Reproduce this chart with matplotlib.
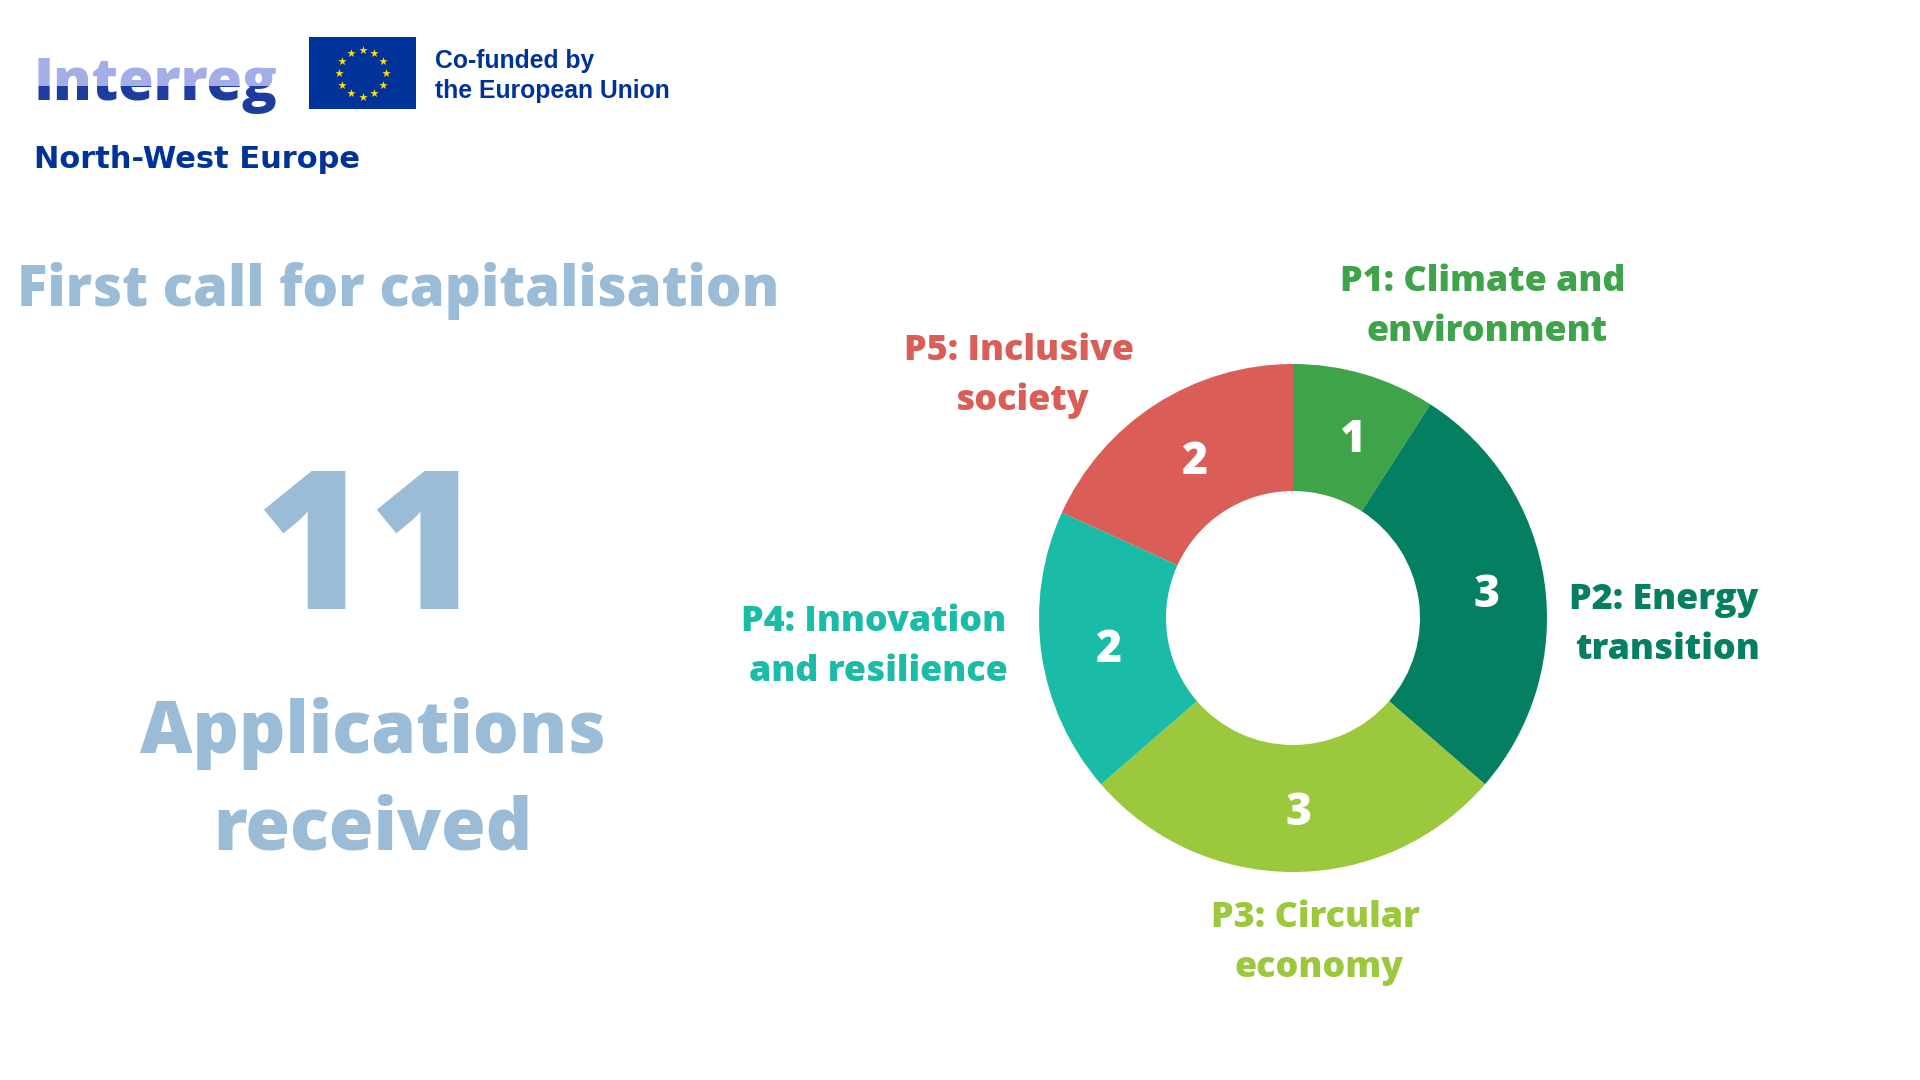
import numpy as np
import matplotlib
matplotlib.use("Agg")
import matplotlib.pyplot as plt
from matplotlib.patches import Rectangle
from matplotlib.transforms import Bbox, TransformedBbox

# ---------------- data ----------------
categories = ["P1: Climate and\nenvironment", "P2: Energy\ntransition",
              "P3: Circular\neconomy", "P4: Innovation\nand resilience",
              "P5: Inclusive\nsociety"]
values = [1, 3, 3, 2, 2]
total_applications = 11
colors = ["#3FA34A", "#047F62", "#9BC83C", "#1ABCA8", "#DA5D57"]

title_text = "First call for capitalisation"
total_caption = "Applications\nreceived"

W, H = 1920, 1080
fig = plt.figure(figsize=(19.2, 10.8), dpi=100)
fig.patch.set_facecolor("white")

def fx(x):
    return x / W

def fy(y):
    return 1 - y / H

FONT = "Open Sans"
LIGHT = "#9ABCD6"

# ---------------- logo ----------------
split_y = 86
for col, ext in [("#A3AEE6", (0, fy(split_y), 1, 1)), ("#1C3C9E", (0, 0, 1, fy(split_y)))]:
    t = fig.text(fx(33), fy(100), "Interreg", fontsize=41.5, fontweight="heavy",
                 family="Open Sans", color=col, ha="left", va="baseline")
    t.set_clip_box(TransformedBbox(Bbox.from_extents(*ext), fig.transFigure))
    t.set_clip_on(True)

# EU flag
fl, fr, ft, fb = 309, 416, 37, 109
flag_ax = fig.add_axes([fx(fl), fy(fb), (fr - fl) / W, (fb - ft) / H])
flag_ax.set_xlim(0, fr - fl)
flag_ax.set_ylim(fb - ft, 0)
flag_ax.axis("off")
flag_ax.add_patch(Rectangle((0, 0), fr - fl, fb - ft, facecolor="#003399",
                            edgecolor="none", zorder=0))
ang = np.deg2rad(np.arange(12) * 30)
ccx, ccy = (fr - fl) / 2, (fb - ft) / 2
flag_ax.scatter(ccx + 23.5 * np.sin(ang), ccy - 23.5 * np.cos(ang), marker="*",
                s=40, color="#FFDD00", linewidths=0, zorder=2)

fig.text(fx(435), fy(68), "Co-funded by", fontsize=17.8, fontweight="bold",
         family="Liberation Sans", color="#003399", ha="left", va="baseline")
fig.text(fx(435), fy(98), "the European Union", fontsize=17.8, fontweight="bold",
         family="Liberation Sans", color="#003399", ha="left", va="baseline")
fig.text(fx(34), fy(168), "North-West Europe", fontsize=22, fontweight="bold",
         family="DejaVu Sans", color="#003399", ha="left", va="baseline")

# ---------------- left texts ----------------
fig.text(fx(17), fy(306), title_text, fontsize=40.5, fontweight="heavy",
         family=FONT, color=LIGHT, ha="left", va="baseline")
fig.text(fx(369), fy(609), str(total_applications), fontsize=140, fontweight="heavy",
         family=FONT, color=LIGHT, ha="center", va="baseline")
cap_lines = total_caption.split("\n")
for line, base in zip(cap_lines, [753, 849]):
    fig.text(fx(373), fy(base), line, fontsize=52, fontweight="heavy",
             family=FONT, color=LIGHT, ha="center", va="baseline")

# ---------------- donut ----------------
cx, cy, R = 1293, 618, 254
ax = fig.add_axes([fx(cx - R), fy(cy + R), 2 * R / W, 2 * R / H])
wedges, _ = ax.pie(values, colors=colors, startangle=90, counterclock=False,
                   radius=1.0, wedgeprops=dict(width=0.5, linewidth=0))
ax.set_xlim(-1, 1)
ax.set_ylim(-1, 1)
ax.set_aspect("equal")
ax.axis("off")

cum = np.cumsum([0] + values)
for i, v in enumerate(values):
    mid = 90 - 360 * (cum[i] + v / 2) / sum(values)
    r = 0.75
    ax.text(r * np.cos(np.deg2rad(mid)) + 0.02, r * np.sin(np.deg2rad(mid)) - 0.02, str(v),
            fontsize=32, fontweight="heavy", family=FONT, color="white",
            ha="center", va="center")

# category labels (centre x, first baseline y) in pixels
label_pos = [(1483, 291), (1664, 609), (1315, 927), (874, 631), (1019, 360)]
line_gap = 50
for cat, col, (lx, ly) in zip(categories, colors, label_pos):
    for k, line in enumerate(cat.split("\n")):
        fig.text(fx(lx + 4 * k), fy(ly + k * line_gap), line, fontsize=25.8,
                 fontweight="heavy", family=FONT, color=col, ha="center", va="baseline")

fig.savefig("out.png", dpi=100, facecolor="white")
